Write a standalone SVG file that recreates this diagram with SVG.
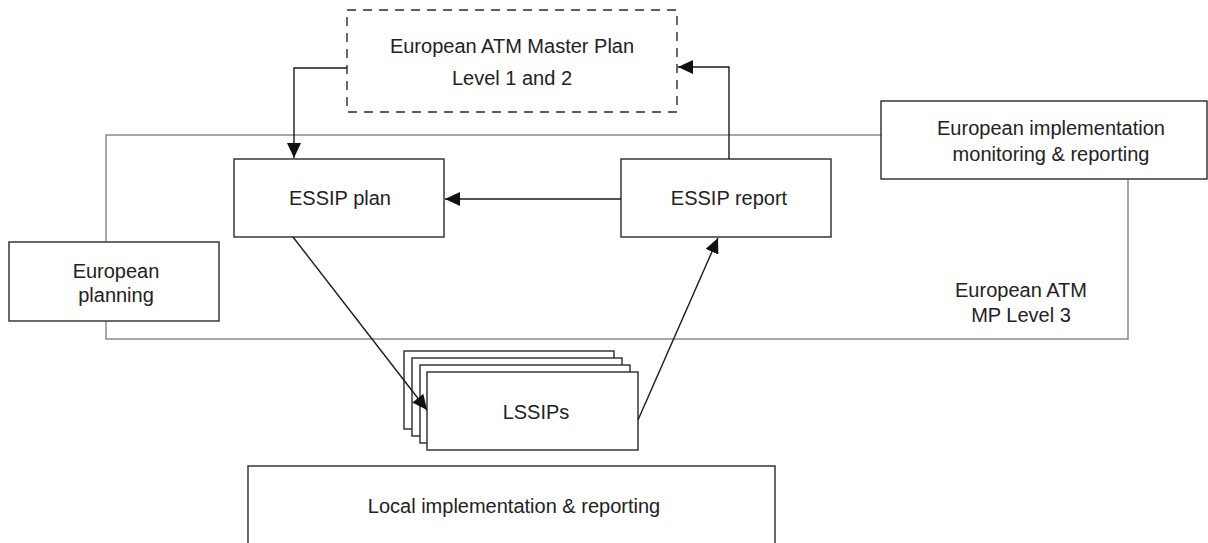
<svg xmlns="http://www.w3.org/2000/svg" width="1208" height="543" viewBox="0 0 1208 543">
<style>
.box{fill:#fff;stroke:#2a2a2a;stroke-width:1.4}
.dash{fill:#fff;stroke:#2a2a2a;stroke-width:1.4;stroke-dasharray:9 7}
.frame{fill:none;stroke:#8c8c8c;stroke-width:1.5}
.t{font-family:"Liberation Sans",Arial,sans-serif;font-size:20px;fill:#222;text-anchor:middle}
.c{fill:none;stroke:#1a1a1a;stroke-width:1.4}
</style>
<defs>
<marker id="arr" markerUnits="userSpaceOnUse" markerWidth="16" markerHeight="14" refX="15" refY="7" orient="auto">
<path d="M0,0 L15,7 L0,14 Z" fill="#111"/>
</marker>
</defs>
<rect width="1208" height="543" fill="#fff"/>
<g id="mp-level3">
<path class="frame" d="M106,242 V135 H881 M1128,179 V339 H106 V321"/>
<text class="t" x="1021" y="297">European ATM</text>
<text class="t" x="1021" y="322">MP Level 3</text>
</g>
<g id="master-plan">
<rect class="dash" x="347" y="10" width="330" height="102"/>
<text class="t" x="512" y="53">European ATM Master Plan</text>
<text class="t" x="512" y="85">Level 1 and 2</text>
</g>
<g id="essip-plan">
<rect class="box" x="234" y="159" width="210" height="78"/>
<text class="t" x="340" y="205">ESSIP plan</text>
</g>
<g id="essip-report">
<rect class="box" x="621" y="159" width="210" height="78"/>
<text class="t" x="729" y="205">ESSIP report</text>
</g>
<g id="european-planning">
<rect class="box" x="9" y="242" width="210" height="79"/>
<text class="t" x="116" y="278">European</text>
<text class="t" x="116" y="302">planning</text>
</g>
<g id="eu-monitoring">
<rect class="box" x="881" y="101" width="326" height="78"/>
<text class="t" x="1051" y="135">European implementation</text>
<text class="t" x="1051" y="161">monitoring &amp; reporting</text>
</g>
<g id="lssips">
<rect class="box" x="404" y="351" width="210" height="78"/>
<rect class="box" x="412" y="358" width="210" height="78"/>
<rect class="box" x="420" y="365" width="210" height="78"/>
<rect class="box" x="427" y="372" width="211" height="78"/>
<text class="t" x="536" y="419">LSSIPs</text>
</g>
<g id="local">
<rect class="box" x="248" y="466" width="527" height="90"/>
<text class="t" x="514" y="513">Local implementation &amp; reporting</text>
</g>
<g id="connectors">
<path class="c" d="M347,68 H294 V158" marker-end="url(#arr)"/>
<path class="c" d="M729,159 V67 H678" marker-end="url(#arr)"/>
<path class="c" d="M621,199 H445" marker-end="url(#arr)"/>
<path class="c" d="M293,237 L427,410" marker-end="url(#arr)"/>
<path class="c" d="M638,420 L718,238" marker-end="url(#arr)"/>
</g>
</svg>
